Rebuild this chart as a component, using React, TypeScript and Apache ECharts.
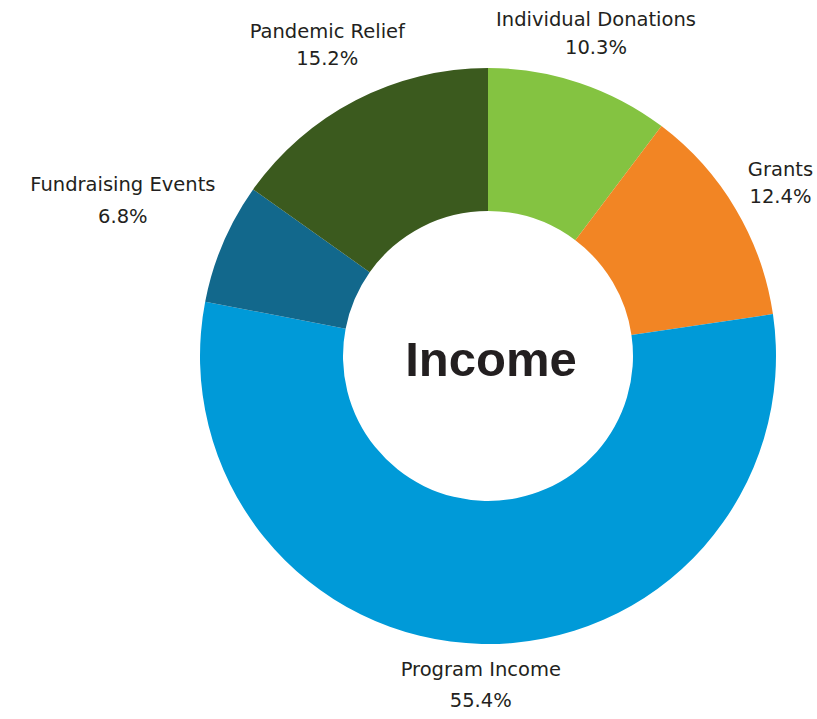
import React, { useEffect, useRef } from "react";
import * as echarts from "echarts";

const categories = ["Individual Donations", "Grants", "Program Income", "Fundraising Events", "Pandemic Relief"];
const values = [10.3, 12.4, 55.4, 6.8, 15.2];
const colors = ["#84c341", "#f28524", "#009ad8", "#12688c", "#3b5a1e"];
const centerTitle = "Income";

// layout: distance from the chart centre to each label's centre (px)
const labelRadius = [340, 340, 329, 397, 350];
const labelLineHeight = [28, 27, 31, 32, 27];

const CX = 488;
const CY = 356;
const R_IN = 145;
const R_OUT = 288;

export default function App() {
  const ref = useRef<HTMLDivElement>(null);
  useEffect(() => {
    if (!ref.current) return;
    const chart = echarts.init(ref.current, undefined, { renderer: "svg" });
    const total = values.reduce((a, b) => a + b, 0);
    const mids: number[] = [];
    let acc = 0;
    values.forEach((v) => {
      mids.push(((acc + v / 2) / total) * Math.PI * 2);
      acc += v;
    });
    chart.setOption({
      animation: false,
      backgroundColor: "#ffffff",
      graphic: [
        {
          type: "text",
          x: 491,
          y: 359,
          style: {
            text: centerTitle,
            align: "center",
            verticalAlign: "middle",
            fontFamily: "Liberation Sans, Arial, sans-serif",
            fontWeight: "bold",
            fontSize: 49,
            fill: "#231f20",
          },
        },
      ],
      series: [
        {
          type: "pie",
          center: [CX, CY],
          radius: [R_IN, R_OUT],
          startAngle: 90,
          clockwise: true,
          avoidLabelOverlap: false,
          itemStyle: { borderWidth: 0 },
          label: {
            show: true,
            position: "outside",
            formatter: (p: any) => `${p.name}\n${values[p.dataIndex].toFixed(1)}%`,
            color: "#231f20",
            fontFamily: "DejaVu Sans, sans-serif",
            fontSize: 19.5,
            lineHeight: 28,
            align: "center",
          },
          labelLine: { show: false },
          labelLayout: (params: any) => {
            const i = params.dataIndex;
            const a = mids[i];
            const dx = Math.sin(a);
            const dy = -Math.cos(a);
            return {
              x: CX + dx * labelRadius[i],
              y: CY + dy * labelRadius[i],
              align: "center",
              verticalAlign: "middle",
            };
          },
          emphasis: { disabled: true },
          data: categories.map((name, i) => ({
            name,
            value: values[i],
            itemStyle: { color: colors[i] },
            label: { lineHeight: labelLineHeight[i] },
          })),
        },
      ],
    });
    return () => chart.dispose();
  }, []);
  return (
    <div
      ref={ref}
      style={{ position: "fixed", left: 0, top: 0, width: 817, height: 719 }}
    />
  );
}
